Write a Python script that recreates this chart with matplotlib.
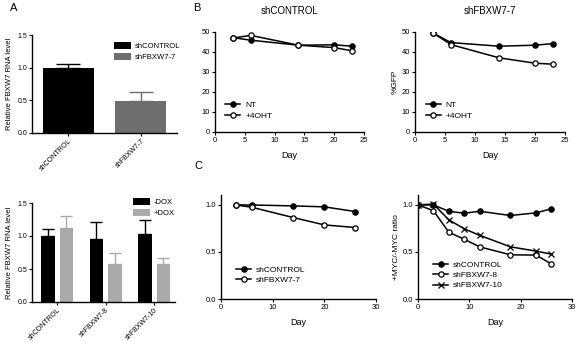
import numpy as np
import matplotlib
matplotlib.use('Agg')
import matplotlib.pyplot as plt
from matplotlib.ticker import FormatStrFormatter

plt.rcParams['font.family'] = ['Liberation Sans', 'DejaVu Sans']

# A top: knockdown
a1_labels = ['shCONTROL', 'shFBXW7-7']
a1_vals = [1.00, 0.49]
a1_err = [0.06, 0.13]
a1_colors = ['#000000', '#6e6e6e']

# A bottom: dox inducible
a2_labels = ['shCONTROL', 'shFBXW7-8', 'shFBXW7-10']
a2_nodox = [1.00, 0.95, 1.03]
a2_nodox_err = [0.10, 0.26, 0.21]
a2_dox = [1.12, 0.57, 0.57]
a2_dox_err = [0.18, 0.17, 0.09]

# B: %GFP
b_days = [3, 6, 14, 20, 23]
b_ctrl_nt = [47.2, 45.9, 43.4, 43.6, 42.9]
b_ctrl_oht = [47.0, 48.3, 43.4, 42.2, 40.6]
b_fb_nt = [49.5, 44.7, 42.9, 43.4, 44.2]
b_fb_oht = [49.5, 43.7, 37.1, 34.4, 33.9]

# C: +MYC/-MYC ratio
c1_days = [3, 6, 14, 20, 26]
c1_ctrl = [1.00, 1.00, 0.99, 0.98, 0.93]
c1_fb7 = [1.00, 0.975, 0.866, 0.788, 0.76]
c2_days = [0, 3, 6, 9, 12, 18, 23, 26]
c2_ctrl = [1.00, 1.00, 0.933, 0.912, 0.933, 0.888, 0.916, 0.96]
c2_fb8 = [1.00, 0.94, 0.71, 0.635, 0.555, 0.47, 0.467, 0.372]
c2_fb10 = [1.00, 1.01, 0.842, 0.747, 0.677, 0.555, 0.509, 0.477]

W, H = 578, 342
fig = plt.figure(figsize=(W / 100, H / 100), dpi=100)

def box(l, t, r, b):
    return [l / W, 1 - b / H, (r - l) / W, (b - t) / H]

def style(ax, size=5.5):
    for s in ['top', 'right']:
        ax.spines[s].set_visible(False)
    for s in ['left', 'bottom']:
        ax.spines[s].set_linewidth(1.0)
    ax.tick_params(direction='out', length=2.5, width=0.8, labelsize=size, pad=1)

# ---- A top
ax = fig.add_axes(box(32, 35, 177, 133))
style(ax, 5)
x = np.arange(len(a1_labels))
for i in range(len(x)):
    ax.bar(x[i], a1_vals[i], 0.7, color=a1_colors[i], label=a1_labels[i])
    ax.errorbar(x[i], a1_vals[i], yerr=[[0], [a1_err[i]]], color=a1_colors[i],
                capsize=8.5, elinewidth=1.0, capthick=1.0, fmt='none')
ax.set_xlim(-0.5, 1.5)
ax.set_ylim(0, 1.5)
ax.set_yticks([0, 0.5, 1.0, 1.5])
ax.yaxis.set_major_formatter(FormatStrFormatter('%.1f'))
ax.set_xticks(x)
ax.set_xticklabels(a1_labels, rotation=45, ha='right', rotation_mode='anchor')
ax.set_ylabel('Relative FBXW7 RNA level', fontsize=5.5, labelpad=3)
ax.legend(loc='upper left', bbox_to_anchor=(0.52, 1.0), frameon=False, fontsize=5.5,
          handlelength=2.2, handleheight=1.1, handletextpad=0.5, labelspacing=0.35)

# ---- A bottom
ax = fig.add_axes(box(32, 203, 175, 302))
style(ax, 5)
x = np.arange(len(a2_labels))
ax.bar(x - 0.19, a2_nodox, 0.28, color='#000000', label='-DOX')
ax.bar(x + 0.19, a2_dox, 0.28, color='#aaaaaa', label='+DOX')
ax.errorbar(x - 0.19, a2_nodox, yerr=[np.zeros(3), a2_nodox_err], color='#000000',
            capsize=4.2, elinewidth=1.0, capthick=1.0, fmt='none')
ax.errorbar(x + 0.19, a2_dox, yerr=[np.zeros(3), a2_dox_err], color='#aaaaaa',
            capsize=4.2, elinewidth=1.0, capthick=1.0, fmt='none')
ax.set_xlim(-0.52, 2.43)
ax.set_ylim(0, 1.5)
ax.set_yticks([0, 0.5, 1.0, 1.5])
ax.yaxis.set_major_formatter(FormatStrFormatter('%.1f'))
ax.set_xticks(x)
ax.set_xticklabels(a2_labels, rotation=45, ha='right', rotation_mode='anchor')
ax.set_ylabel('Relative FBXW7 RNA level', fontsize=5.5, labelpad=3)
ax.legend(loc='upper left', bbox_to_anchor=(0.66, 1.12), frameon=False, fontsize=5.5,
          handlelength=2.2, handleheight=1.1, handletextpad=0.5, labelspacing=0.35)

# ---- B
line_kw = dict(color='black', lw=1.1, markersize=3.8, markeredgewidth=0.9)
leg_kw = dict(loc='lower left', frameon=False, fontsize=6, handlelength=1.8,
              handletextpad=0.6, labelspacing=0.3)
for l, r, nt, oht, title, ylab in [(215, 364, b_ctrl_nt, b_ctrl_oht, 'shCONTROL', None),
                                    (415, 565, b_fb_nt, b_fb_oht, 'shFBXW7-7', '%GFP')]:
    ax = fig.add_axes(box(l, 32, r, 132))
    style(ax)
    ax.plot(b_days, nt, marker='o', mfc='black', label='NT', **line_kw)
    ax.plot(b_days, oht, marker='o', mfc='white', label='+4OHT', **line_kw)
    ax.set_xlim(0, 25)
    ax.set_ylim(0, 50)
    ax.set_xticks([0, 5, 10, 15, 20, 25])
    ax.set_yticks([0, 10, 20, 30, 40, 50])
    ax.set_xlabel('Day', fontsize=6.5, labelpad=5)
    ax.set_title(title, fontsize=7, pad=13)
    if ylab:
        ax.set_ylabel(ylab, fontsize=6, labelpad=2)
    ax.legend(bbox_to_anchor=(0.02, 0.05), **leg_kw)

# ---- C left
ax = fig.add_axes(box(221, 195, 376, 299))
style(ax)
ax.plot(c1_days, c1_ctrl, marker='o', mfc='black', label='shCONTROL', **line_kw)
ax.plot(c1_days, c1_fb7, marker='o', mfc='white', label='shFBXW7-7', **line_kw)
ax.set_xlim(0, 30)
ax.set_ylim(0, 1.106)
ax.set_xticks([0, 10, 20, 30])
ax.set_yticks([0, 0.5, 1.0])
ax.yaxis.set_major_formatter(FormatStrFormatter('%.1f'))
ax.set_xlabel('Day', fontsize=6.5, labelpad=5)
ax.legend(bbox_to_anchor=(0.05, 0.07), **leg_kw)

# ---- C right
ax = fig.add_axes(box(418, 195, 572, 299))
style(ax)
ax.plot(c2_days, c2_ctrl, marker='o', mfc='black', label='shCONTROL', **line_kw)
ax.plot(c2_days, c2_fb8, marker='o', mfc='white', label='shFBXW7-8', **line_kw)
ax.plot(c2_days, c2_fb10, marker='x', label='shFBXW7-10', **line_kw)
ax.set_xlim(0, 30)
ax.set_ylim(0, 1.106)
ax.set_xticks([0, 10, 20, 30])
ax.set_yticks([0, 0.5, 1.0])
ax.yaxis.set_major_formatter(FormatStrFormatter('%.1f'))
ax.set_xlabel('Day', fontsize=6.5, labelpad=5)
ax.set_ylabel('+MYC/-MYC ratio', fontsize=6, labelpad=2)
ax.legend(bbox_to_anchor=(0.05, 0.02), **leg_kw)

# panel letters
fig.text(10 / W, 1 - 3 / H, 'A', fontsize=8, va='top')
fig.text(193 / W, 1 - 3 / H, 'B', fontsize=8, va='top')
fig.text(194 / W, 1 - 161 / H, 'C', fontsize=8, va='top')

fig.savefig('out.png', dpi=100)
